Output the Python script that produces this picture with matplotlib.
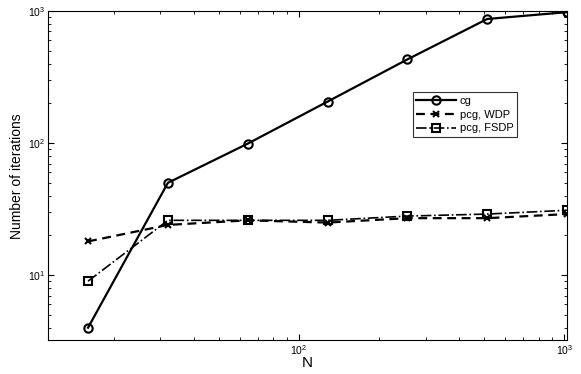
import matplotlib.pyplot as plt
import matplotlib as mpl
import numpy as np

# data
N = [16, 32, 64, 128, 256, 512, 1024]
cg_iters = [4, 50, 99, 206, 430, 870, 980]
wdp_iters = [18, 24, 26, 25, 27, 27, 29]
fsdp_iters = [9, 26, 26, 26, 28, 29, 31]

mpl.rcParams.update({
    "font.family": ["Liberation Sans", "DejaVu Sans"],
    "xtick.direction": "in",
    "ytick.direction": "in",
    "xtick.top": True,
    "ytick.right": True,
    "mathtext.fontset": "custom",
    "mathtext.rm": "Liberation Sans",
    "lines.dashed_pattern": (4.0, 2.5),
})

fig = plt.figure(figsize=(5.81, 3.74), dpi=100)
ax = fig.add_axes([0.0826, 0.0896, 0.8934, 0.881])

ax.loglog(N, cg_iters, "k-", marker="o", ms=6, mfc="none", mew=1.5, lw=1.6, label="cg")
ax.loglog(N, wdp_iters, "k--", marker="x", ms=4, mew=1.5, lw=1.6, label="pcg, WDP")
ax.loglog(N, fsdp_iters, "k-.", marker="s", ms=5.5, mfc="none", mew=1.5, lw=1.2, label="pcg, FSDP")

ax.set_xlim(11.3, 1024)
ax.set_ylim(3.2, 1000)

ax.tick_params(which="major", length=4, labelsize=7.5, width=0.8, pad=2)
ax.tick_params(which="minor", length=2, width=0.6)
for s in ax.spines.values():
    s.set_linewidth(0.8)

ax.set_xlabel("N", fontsize=11, labelpad=-1)
ax.set_ylabel("Number of iterations", fontsize=10, labelpad=3)

leg = ax.legend(loc="upper left", bbox_to_anchor=(0.703, 0.753), fontsize=8,
                frameon=True, fancybox=False, edgecolor="black", handlelength=3.6,
                borderpad=0.3, labelspacing=0.35, handletextpad=0.3, borderaxespad=0)
leg.get_frame().set_linewidth(0.8)

fig.savefig("out.png", dpi=100)
